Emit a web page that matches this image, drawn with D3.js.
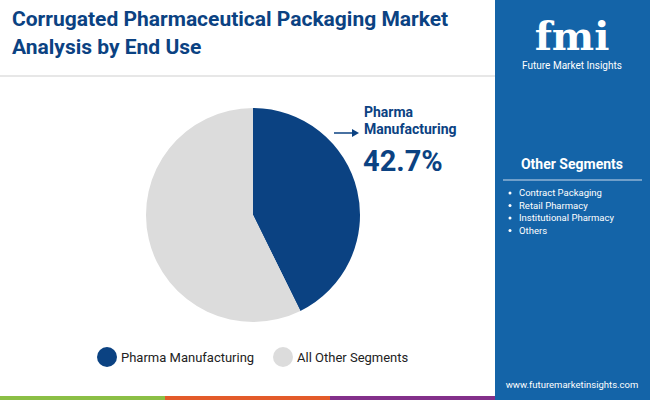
<!DOCTYPE html>
<html><head><meta charset="utf-8">
<script src="https://cdn.jsdelivr.net/npm/d3@7"></script>
<style>body{margin:0}svg{display:block;font-family:Roboto,sans-serif}</style>
</head><body><div id="chart"></div>
<script>
// data
const segments = ['Pharma Manufacturing', 'All Other Segments']
const shares = [42.7, 57.3]
const colors = ['#0b4282', '#dcdcdc']
const otherSegments = ['Contract Packaging', 'Retail Pharmacy', 'Institutional Pharmacy', 'Others']
const stripColors = ['#8bbf45', '#e35b2a', '#83308a']

const width = 650, height = 400
const svg = d3.select('#chart').append('svg').attr('width', width).attr('height', height)
svg.append('rect').attr('width', width).attr('height', height).attr('fill', '#fff')

// title
const title = svg.append('text').attr('fill', '#0b4282').style('font-weight', 700).style('font-size', '21px')
title.append('tspan').attr('x', 12).attr('y', 26).text('Corrugated Pharmaceutical Packaging Market')
title.append('tspan').attr('x', 12).attr('y', 54).text('Analysis by End Use')
svg.append('line').attr('x1', 0).attr('x2', 495).attr('y1', 76).attr('y2', 76).attr('stroke', '#cfcfcf')

// right panel
svg.append('rect').attr('x', 495).attr('y', 0).attr('width', 155).attr('height', height).attr('fill', '#1464a8')
svg.append('text').attr('x', 572).attr('y', 50).attr('text-anchor', 'middle').attr('fill', '#fff')
  .style('font-size', '40px').style('font-weight', 900).style('font-family', 'DejaVu Serif').text('fmi')
svg.append('text').attr('x', 572).attr('y', 69).attr('text-anchor', 'middle').attr('fill', '#fff')
  .style('font-size', '10px').text('Future Market Insights')
svg.append('text').attr('x', 572).attr('y', 169).attr('text-anchor', 'middle').attr('fill', '#fff')
  .style('font-size', '14px').style('font-weight', 700).text('Other Segments')
svg.append('line').attr('x1', 503).attr('x2', 642).attr('y1', 180).attr('y2', 180).attr('stroke', '#8fb3d6').attr('stroke-width', 1.5)
otherSegments.forEach((s, i) => {
  const y = 196 + i * 12.5
  svg.append('circle').attr('cx', 510).attr('cy', y - 3).attr('r', 1.5).attr('fill', '#fff')
  svg.append('text').attr('x', 519).attr('y', y).attr('fill', '#fff').style('font-size', '9.5px').text(s)
})
svg.append('text').attr('x', 572).attr('y', 388).attr('text-anchor', 'middle').attr('fill', '#fff')
  .style('font-size', '9.5px').text('www.futuremarketinsights.com')

// bottom strip
const sx = d3.scaleBand().domain(d3.range(3)).range([0, 495])
svg.selectAll('.strip').data(stripColors).join('rect')
  .attr('x', (d, i) => sx(i)).attr('y', 396).attr('width', sx.bandwidth()).attr('height', 4).attr('fill', d => d)

// pie
const data = segments.map((s, i) => ({ name: s, value: shares[i], color: colors[i] }))
const pie = d3.pie().value(d => d.value).sort(null)
const arc = d3.arc().innerRadius(0).outerRadius(107)
const g = svg.append('g').attr('transform', 'translate(253,215)')
g.selectAll('path').data(pie(data)).join('path').attr('d', arc).attr('fill', d => d.data.color)

// callout
svg.append('line').attr('x1', 334).attr('x2', 352).attr('y1', 133).attr('y2', 133).attr('stroke', '#0b4282').attr('stroke-width', 1.5)
svg.append('path').attr('d', 'M352,129 L359,133 L352,137 Z').attr('fill', '#0b4282')
svg.append('text').attr('x', 364).attr('y', 117).attr('fill', '#0b4282').style('font-size', '14px').style('font-weight', 700).text('Pharma')
svg.append('text').attr('x', 364).attr('y', 134).attr('fill', '#0b4282').style('font-size', '14px').style('font-weight', 700).text('Manufacturing')
svg.append('text').attr('x', 363).attr('y', 171).attr('fill', '#0b4282').style('font-size', '29px').style('font-weight', 700).text(d3.format('.1f')(shares[0]) + '%')

// legend
const lx = [107, 283]
data.forEach((d, i) => {
  svg.append('circle').attr('cx', lx[i]).attr('cy', 357).attr('r', 10).attr('fill', d.color)
  svg.append('text').attr('x', lx[i] + 14).attr('y', 362).attr('fill', '#222').style('font-size', '13px').text(d.name)
})
</script></body></html>
